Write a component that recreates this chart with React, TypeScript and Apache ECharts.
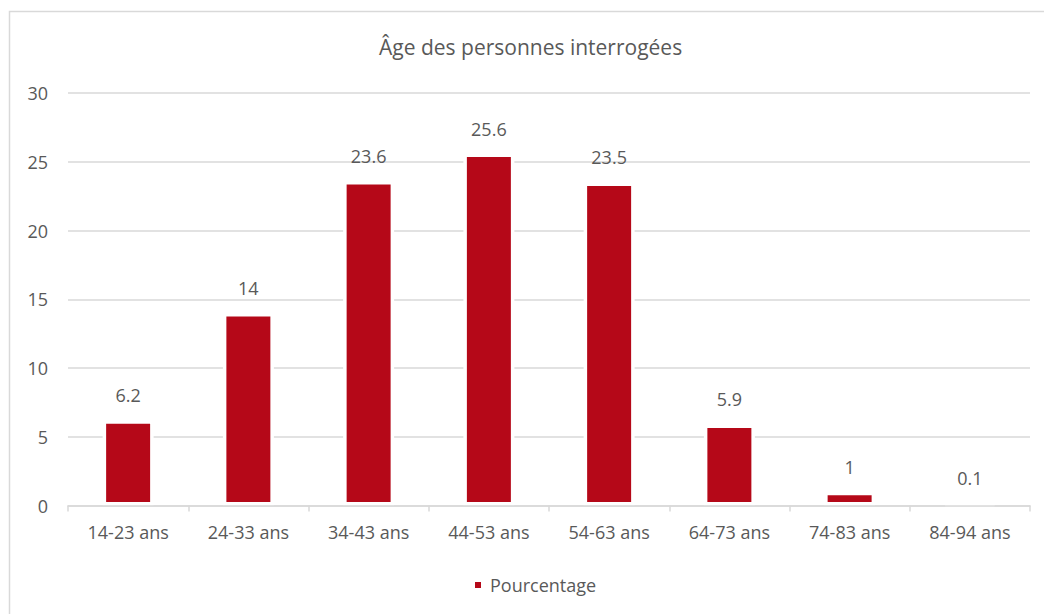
import React, { useEffect, useRef } from "react";
import * as echarts from "echarts";

const categories = ["14-23 ans", "24-33 ans", "34-43 ans", "44-53 ans", "54-63 ans", "64-73 ans", "74-83 ans", "84-94 ans"];
const values = [6.2, 14, 23.6, 25.6, 23.5, 5.9, 1, 0.1];
const seriesName = "Pourcentage";
const titleText = "Âge des personnes interrogées";

const FONT = "'Open Sans', sans-serif";
const GREY = "#595959";

export default function App() {
  const ref = useRef<HTMLDivElement>(null);
  useEffect(() => {
    if (!ref.current) return;
    const chart = echarts.init(ref.current, undefined, { renderer: "svg" });
    chart.setOption({
      animation: false,
      backgroundColor: "#fff",
      textStyle: { fontFamily: FONT },
      title: {
        text: titleText,
        left: 374,
        top: 31,
        textStyle: { color: GREY, fontSize: 21, fontWeight: "normal", fontFamily: FONT },
      },
      graphic: [
        {
          type: "rect",
          shape: { x: 9.5, y: 11.5, width: 1200, height: 800 },
          style: { fill: "none", stroke: "#d9d9d9", lineWidth: 1.5 },
          silent: true,
          z: -1,
        },
      ],
      legend: {
        data: [seriesName],
        left: 468,
        top: 571,
        icon: "rect",
        itemWidth: 8,
        itemHeight: 8,
        textStyle: { color: GREY, fontSize: 18, fontFamily: FONT, padding: [0, 0, 0, 3] },
      },
      grid: { left: 68, right: 14, top: 93, bottom: 108.5, containLabel: false },
      xAxis: {
        type: "category",
        data: categories,
        z: 3,
        axisLine: { lineStyle: { color: "#d9d9d9", width: 1.5 } },
        axisTick: { show: true, length: 6, lineStyle: { color: "#d9d9d9", width: 1.5 } },
        axisLabel: { color: GREY, fontSize: 18, fontFamily: FONT, margin: 17 },
      },
      yAxis: {
        type: "value",
        min: 0,
        max: 30,
        interval: 5,
        axisLine: { show: false },
        axisTick: { show: false },
        axisLabel: { color: GREY, fontSize: 18, fontFamily: FONT, margin: 20 },
        splitLine: { lineStyle: { color: "#d9d9d9", width: 1.5 } },
      },
      series: [
        {
          name: seriesName,
          type: "bar",
          data: values,
          barWidth: 51,
          itemStyle: { color: "#B50818", borderColor: "#fff", borderWidth: 3.5 },
          label: {
            show: true,
            position: "top",
            distance: 16,
            color: GREY,
            fontSize: 18,
            fontFamily: FONT,
          },
        },
      ],
    });
    return () => chart.dispose();
  }, []);
  return <div ref={ref} style={{ position: "fixed", left: 0, top: 0, width: 1044, height: 614 }} />;
}
